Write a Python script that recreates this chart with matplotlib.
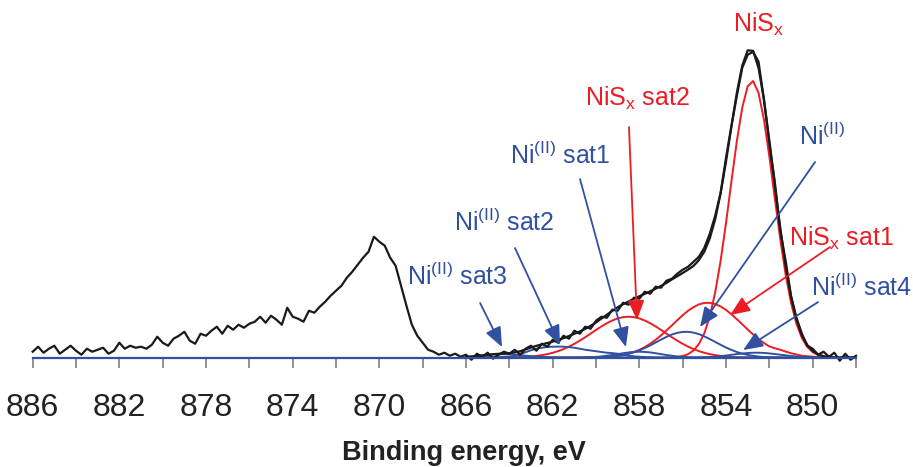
import matplotlib
matplotlib.use('Agg')
import matplotlib.pyplot as plt
import numpy as np

plt.rcParams['font.family'] = ['Liberation Sans', 'DejaVu Sans']
plt.rcParams['mathtext.default'] = 'regular'

# measured Ni 2p spectrum, 886 -> 848 eV in 0.25 eV steps
energy_data = np.linspace(886, 848, 153)
counts = [
    6, 11, 5, 9, 12, 4, 8, 12,
    7, 3, 9, 6, 8, 10, 4, 7,
    15, 9, 12, 10, 11, 9, 13, 21,
    15, 12, 19, 22, 26, 17, 14, 24,
    22, 27, 31, 24, 32, 28, 33, 30,
    34, 36, 41, 35, 42, 38, 33, 50,
    41, 39, 36, 47, 45, 51, 56, 62,
    67, 72, 80, 86, 93, 100, 106, 121,
    116, 112, 100, 92, 72, 52, 33, 22,
    15, 8, 6, 3, 5, 2, 4, 1,
    3, -2, 4, 1, 5, -1, 3, 6,
    4, 8, 3, 9, 12, 7, 14, 11,
    18, 15, 22, 19, 27, 24, 31, 29,
    37, 41, 40, 48, 47, 55, 53, 60,
    59, 66, 64, 71, 70, 77, 79, 84,
    88, 91, 96, 101, 110, 124, 142, 165,
    200, 232, 262, 290, 303, 306, 296, 258,
    214, 176, 128, 97, 62, 40, 24, 12,
    9, 3, 6, 1, 5, -3, 4, -2,
    2,
]

# fitted components, 866 -> 848 eV in 0.25 eV steps
energy_fit = np.linspace(866, 848, 73)
nisx = [0] * 38 + [0.3, 0.7, 1.7, 3.6, 7.2, 13.8, 24.6, 41.4, 65.3, 96.8,
                   134.8, 176.4, 216.8, 250.3, 271.5, 276.7, 264.8, 238.1, 201.1, 159.6,
                   119.0, 83.3, 54.8, 33.9, 19.7, 10.7, 5.5, 2.6, 1.2, 0.5,
                   0.2, 0.1] + [0] * 3
nisx_sat1 = [0] * 25 + [0.5, 0.8, 1.3, 1.9, 2.8, 4.1, 5.8, 7.9, 10.6, 14.0,
                        17.9, 22.3, 27.2, 32.3, 37.5, 42.5, 47.0, 50.6, 53.3, 54.8,
                        54.9, 53.7, 51.3, 47.8, 43.4, 38.5, 33.4, 28.2, 23.2, 18.7,
                        14.7, 11.3, 9.5, 8.0, 6.2, 4.5, 3.2, 2.0, 1.5, 1.0,
                        0.6, 0.3, 0.1] + [0] * 5
nisx_sat2 = [0] * 7 + [0.1, 0.2, 0.3, 0.5, 0.8, 1.2, 1.8, 2.6, 3.6, 4.9,
                       6.6, 8.6, 11.1, 13.9, 17.1, 20.5, 24.1, 27.8, 31.3, 34.5,
                       37.2, 39.3, 40.6, 41.0, 40.6, 39.3, 37.2, 34.5, 31.3, 27.8,
                       24.1, 20.5, 17.1, 13.9, 11.1, 8.6, 6.6, 4.9, 3.6, 2.6,
                       1.8, 1.2, 0.8, 0.5, 0.3, 0.2, 0.1] + [0] * 19
ni2 = [0] * 23 + [0.1, 0.2, 0.4, 0.7, 1.1, 1.7, 2.6, 3.8, 5.4, 7.3,
                  9.7, 12.3, 15.2, 18.1, 20.8, 23.2, 24.9, 25.8, 25.9, 25.1,
                  23.6, 21.3, 18.7, 15.8, 12.9, 10.2, 7.8, 5.7, 4.1, 2.8,
                  1.9, 1.2, 0.7, 0.4, 0.2, 0.1] + [0] * 14
ni2_sat1 = [0] * 21 + [0.1, 0.3, 0.5, 0.8, 1.3, 2.0, 2.7, 3.6, 4.5, 5.3,
                       5.8, 6.0, 5.8, 5.3, 4.5, 3.6, 2.7, 2.0, 1.3, 0.8,
                       0.5, 0.3, 0.1] + [0] * 29
ni2_sat2 = [0, 0, 0.1, 0.1, 0.2, 0.3, 0.5, 0.7, 1.0, 2.0,
            3.5, 5.5, 7.5, 9.0, 10.0, 10.7, 11.0, 11.1, 11.0, 10.6,
            10.0, 9.0, 8.0, 7.2, 6.5, 5.7, 5.0, 4.6, 4.0, 3.0,
            2.0, 1.4, 1.0, 0.6, 0.3, 0.1] + [0] * 37
ni2_sat3 = [0.8, 1.2, 1.7, 2.2, 2.7, 3.2, 3.4, 3.5, 3.3, 3.0,
            2.5, 2.0, 1.5, 1.1, 0.7, 0.4, 0.2, 0.1] + [0] * 55
ni2_sat4 = [0] * 43 + [0.3, 0.5, 0.7, 1.1, 1.6, 2.2, 2.9, 3.6, 4.2, 4.7,
                       5.0, 5.0, 4.8, 4.3, 3.7, 3.0, 2.4, 1.7, 1.2, 0.8,
                       0.5, 0.3, 0.1] + [0] * 7

red_comps = [nisx, nisx_sat1, nisx_sat2]
blue_comps = [ni2, ni2_sat1, ni2_sat2, ni2_sat3, ni2_sat4]
envelope = np.sum(np.array(red_comps + blue_comps), axis=0)

RED = '#ED1C24'
BLUE = '#3050A0'
BLACK = '#1a1a1a'

fig = plt.figure(figsize=(9.13, 4.67), dpi=100)
ax = fig.add_axes([0.0358, 0.234, 0.9018, 0.7231])

for c in red_comps:
    ax.plot(energy_fit, c, color=RED, lw=1.4)
for c in blue_comps:
    ax.plot(energy_fit, c, color=BLUE, lw=1.4)
ax.plot(energy_fit, envelope, color=BLACK, lw=1.6)
ax.plot(energy_data, counts, color=BLACK, lw=1.6, clip_on=False)

ax.set_xlim(886, 848)
ax.set_ylim(0, 337.7)
ax.set_xticks(np.arange(886, 847, -4))
ax.set_xticks(np.arange(884, 847, -4), minor=True)
ax.set_yticks([])
ax.tick_params(axis='x', which='both', length=7.2, width=1.2, color='#808080',
               direction='out', pad=18, labelsize=23, labelcolor='#222222')
for s in ['left', 'top', 'right']:
    ax.spines[s].set_visible(False)
ax.spines['bottom'].set_color(BLUE)
ax.spines['bottom'].set_linewidth(1.6)
ax.patch.set_visible(False)

# labels and arrows
labels = [
    ('NiS$_x$', RED, (852.52, 333.7), None, None),
    ('NiS$_x$ sat2', RED, (858.11, 259.7), (858.48, 230.7), (858.11, 37.7)),
    ('Ni$^{(II)}$ sat1', BLUE, (861.66, 202.7), (860.74, 178.7), (858.62, 10.7)),
    ('Ni$^{(II)}$ sat2', BLUE, (864.25, 135.7), (863.74, 109.7), (861.66, 12.7)),
    ('Ni$^{(II)}$ sat3', BLUE, (866.41, 81.7), (865.35, 54.7), (864.34, 10.7)),
    ('Ni$^{(II)}$', BLUE, (849.57, 221.7), (849.89, 195.7), (855.2, 30.7)),
    ('NiS$_x$ sat1', RED, (848.65, 119.7), (849.2, 110.7), (853.81, 42.7)),
    ('Ni$^{(II)}$ sat4', BLUE, (847.73, 70.7), (849.75, 55.7), (853.21, 7.7)),
]
for txt, col, pos, tail, tip in labels:
    ax.text(pos[0], pos[1], txt, color=col, fontsize=18, ha='center',
            va='center', clip_on=False)
    if tail is not None:
        ax.annotate('', xy=tip, xytext=tail,
                    arrowprops=dict(arrowstyle='-|>,head_length=1.2,head_width=0.5',
                                    color=col, lw=1.3, mutation_scale=10,
                                    shrinkA=0, shrinkB=0))

fig.text(464 / 913, 1 - 453 / 467, 'Binding energy, eV', ha='center', va='center',
         fontsize=19.5, fontweight='bold', color='#222222')

fig.savefig('out.png', dpi=100)
